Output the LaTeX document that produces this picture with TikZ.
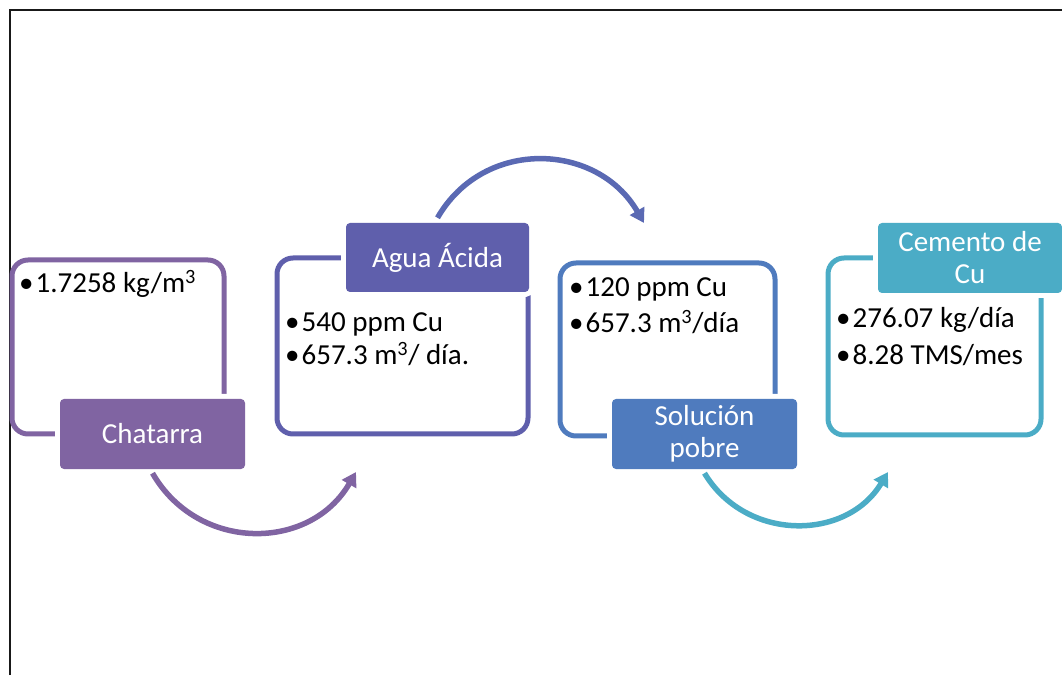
\documentclass[tikz,border=0pt]{standalone}
\usepackage{fontspec}
\setmainfont{Carlito}
\usepackage{tikz}
\usetikzlibrary{arrows.meta, positioning}
\definecolor{kpurple}{HTML}{8064A2}
\definecolor{kindigo}{HTML}{5F5FAC}
\definecolor{kblue}{HTML}{4F7BBE}
\definecolor{kteal}{HTML}{4BACC6}
\definecolor{karrow}{HTML}{5A69B3}
\newcommand{\bul}{•\hspace{2pt}}

\begin{document}
\begin{tikzpicture}[x=1pt, y=1pt,
  infobox/.style={draw=#1, line width=5pt, rounded corners=16pt, inner sep=0pt},
  tagbox/.style={fill=#1, rounded corners=4pt, text=white, align=center, inner sep=0pt,
    preaction={draw=white, line width=10pt}, font=\fontsize{29}{32}\selectfont},
  itemtext/.style={anchor=base west, inner sep=0pt, font=\fontsize{29}{34}\selectfont},
  flowarrow/.style={draw=#1, line width=5.5pt, -{Triangle[length=14pt, width=16pt]}}]
\useasboundingbox (0,0) rectangle (1062,675);
% frame
\draw[line width=1.8pt, black!90] (10,0) -- (10,665) -- (1062,665);
% data boxes
\node[infobox=kpurple, minimum width=212pt, minimum height=174pt] (chatbox) at (118,328) {};
\node[infobox=kindigo, minimum width=251pt, minimum height=176pt] (aguabox) at (402.5,329) {};
\node[infobox=kblue, minimum width=215pt, minimum height=173pt] (solbox) at (667.5,325.5) {};
\node[infobox=kteal, minimum width=213pt, minimum height=177pt] (cembox) at (934.5,328.5) {};
% data lines
\node[itemtext] (chatdat) at (19,382) {\bul 1.7258 kg/m\textsuperscript{3}};
\node[itemtext] (aguadat1) at (285,343) {\bul 540 ppm Cu};
\node[itemtext] (aguadat2) at (285,310) {\bul 657.3 m\textsuperscript{3}/ día.};
\node[itemtext] (soldat1) at (569,378) {\bul 120 ppm Cu};
\node[itemtext] (soldat2) at (569,342) {\bul 657.3 m\textsuperscript{3}/día};
\node[itemtext] (cemdat1) at (836,347) {\bul 276.07 kg/día};
\node[itemtext] (cemdat2) at (836,310) {\bul 8.28 TMS/mes};
% tags
\node[tagbox=kpurple, minimum width=185pt, minimum height=70pt] (chatarra) at (152.5,241) {Chatarra};
\node[tagbox=kindigo, minimum width=183pt, minimum height=69pt] (agua) at (437.5,417.5) {Agua Ácida};
\node[tagbox=kblue, minimum width=185pt, minimum height=70pt] (solucion) at (704.5,241) {Solución\\pobre};
\node[tagbox=kteal, minimum width=184pt, minimum height=70pt] (cemento) at (970,417) {Cemento de\\Cu};
% arrows
\coordinate (tip1) at (356,203);
\coordinate (tip2) at (644,452);
\coordinate (tip3) at (888,203);
\draw[flowarrow=kpurple] ([yshift=-4pt]chatarra.south) to[out=-60, in=240, looseness=1.15] (tip1);
\draw[flowarrow=karrow] ([yshift=5pt]agua.north) to[out=60, in=120, looseness=1.15] (tip2);
\draw[flowarrow=kteal] ([yshift=-4pt]solucion.south) to[out=-59, in=239, looseness=1.12] (tip3);
\end{tikzpicture}
\end{document}
